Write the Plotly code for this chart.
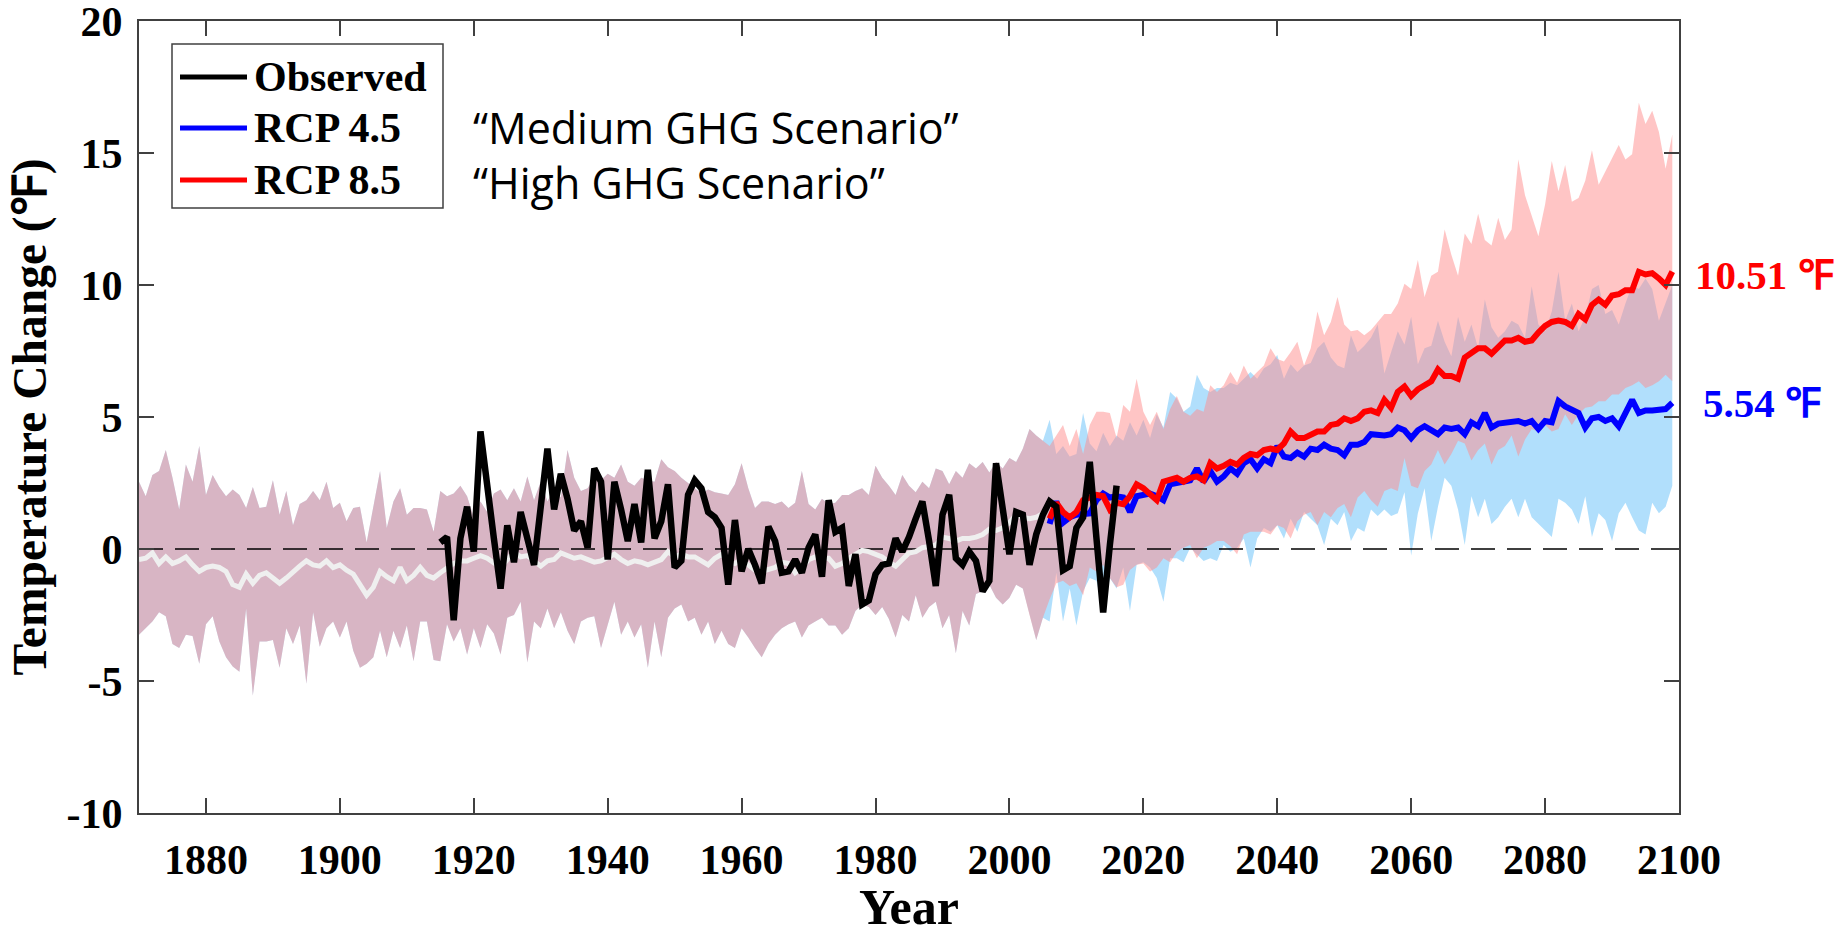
import plotly.graph_objects as go

# ---- years ----
hist_years = list(range(1870, 2006))
future_years = list(range(2006, 2100))
obs_years = list(range(1915, 2017))

# ---- model historical ensemble (shared by both scenarios), degF ----
hist_mean = [
    -0.4, -0.35, -0.15, -0.55, -0.3, -0.55, -0.45, -0.3, -0.6, -0.85,
    -0.7, -0.65, -0.7, -0.85, -1.35, -1.45, -0.95, -1.3, -1.0, -0.9,
    -1.1, -1.3, -1.1, -0.85, -0.65, -0.45, -0.6, -0.65, -0.45, -0.7,
    -0.6, -0.8, -0.95, -1.35, -1.75, -1.45, -0.85, -1.05, -1.2, -0.7,
    -1.2, -1.0, -0.7, -1.0, -1.1, -0.9, -0.7, -0.55, -0.45, -0.45,
    -0.35, -0.25, -0.35, -0.5, -0.7, -0.4, -0.1, -0.3, -0.25, -0.45,
    -0.65, -0.45, -0.4, -0.15, -0.25, -0.35, -0.3, -0.4, -0.5, -0.45,
    -0.3, -0.2, -0.4, -0.55, -0.45, -0.5, -0.6, -0.5, -0.4, -0.1,
    -0.3, -0.2, -0.3, -0.3, -0.45, -0.6, -0.35, -0.2, -0.45, -0.55,
    -0.4, -0.6, -0.8, -0.85, -0.75, -0.7, -0.5, -0.55, -0.9, -0.7,
    -0.4, -0.3, -0.35, -0.35, -0.65, -0.55, -0.35, -0.2, -0.05, -0.1,
    -0.2, -0.3, -0.5, -0.65, -0.4, -0.15, -0.1, 0.05, 0.1, 0.15,
    0.45, 0.4, 0.3, 0.4, 0.4, 0.45, 0.55, 0.75, 0.7, 0.8,
    1.0, 1.3, 1.2, 1.15, 1.2, 1.35,
]
hist_upper = [
    2.55, 2.0, 2.8, 2.95, 3.75, 2.7, 1.5, 3.2, 2.55, 3.9,
    2.05, 2.8, 2.35, 2.0, 2.25, 2.05, 1.55, 2.35, 1.55, 1.6,
    2.6, 1.3, 2.2, 0.9, 1.7, 1.85, 2.2, 1.85, 2.55, 1.55,
    1.75, 1.05, 1.55, 1.6, 0.25, 1.6, 2.95, 0.8, 1.8, 2.3,
    1.3, 1.55, 1.55, 1.5, 0.65, 2.2, 2.0, 2.1, 2.4, 2.0,
    1.2, 1.8, 1.4, 2.1, 2.25, 1.85, 2.3, 1.8, 2.75, 1.85,
    2.55, 1.8, 2.3, 1.95, 3.75, 2.7, 2.2, 2.3, 2.7, 2.6,
    2.85, 2.7, 3.2, 2.55, 2.4, 2.7, 2.6, 2.55, 3.4, 3.1,
    2.95, 2.7, 2.5, 2.3, 2.1, 2.25, 2.15, 2.1, 2.05, 2.45,
    3.25, 2.3, 1.55, 1.8, 1.8, 1.7, 1.8, 1.55, 1.75, 2.95,
    1.7, 1.5, 1.9, 1.7, 1.75, 2.05, 2.05, 2.2, 2.3, 2.05,
    3.15, 2.7, 2.4, 2.05, 2.8, 2.4, 2.15, 2.55, 2.3, 3.05,
    2.95, 2.45, 2.95, 2.7, 3.25, 3.05, 3.3, 2.9, 3.3, 3.05,
    3.45, 3.3, 3.8, 4.55, 4.3, 4.1,
]
hist_lower = [
    -3.25, -3.0, -2.75, -2.4, -2.55, -3.6, -3.75, -3.25, -3.3, -4.35,
    -2.85, -2.55, -3.5, -4.1, -4.45, -4.65, -2.25, -5.55, -3.5, -3.5,
    -3.45, -4.5, -3.0, -3.6, -2.9, -5.1, -2.4, -3.7, -3.0, -2.75,
    -3.35, -2.75, -3.85, -4.5, -4.35, -4.1, -3.1, -4.1, -3.1, -3.75,
    -2.9, -4.25, -2.75, -2.75, -4.2, -4.25, -2.85, -3.5, -3.0, -4.0,
    -3.0, -3.75, -2.85, -3.2, -4.0, -2.6, -2.5, -2.0, -4.3, -2.75,
    -3.0, -2.25, -3.0, -2.4, -3.1, -3.6, -2.75, -2.6, -2.55, -3.75,
    -2.85, -2.0, -3.25, -2.75, -3.35, -2.85, -4.5, -2.75, -4.1, -2.6,
    -2.25, -2.1, -2.75, -2.6, -3.25, -2.75, -3.6, -3.1, -3.6, -3.75,
    -3.0, -3.35, -3.75, -4.1, -3.6, -3.25, -3.0, -2.85, -2.75, -3.35,
    -2.9, -2.75, -2.6, -2.9, -2.9, -3.25, -3.0, -2.35, -2.1, -2.2,
    -2.5, -2.2, -2.65, -3.35, -2.5, -2.75, -1.75, -2.6, -2.2, -2.0,
    -3.0, -2.5, -3.95, -2.35, -2.9, -1.7, -1.6, -1.35, -1.85, -2.1,
    -1.85, -1.35, -1.5, -2.5, -3.45, -2.6,
]

# ---- observed record ----
observed = [
    0.25, 0.45, -2.7, 0.4, 1.6,
    -0.1, 4.45, 2.2, 0.4, -1.5, 0.9, -0.5, 1.4, 0.4, -0.6,
    1.6, 3.8, 1.5, 2.85, 1.9, 0.7, 1.05, 0.05, 3.05, 2.55,
    -0.4, 2.55, 1.5, 0.3, 1.7, 0.25, 3.0, 0.4, 1.05, 2.45,
    -0.7, -0.45, 2.05, 2.6, 2.3, 1.4, 1.2, 0.8, -1.35, 1.1,
    -0.85, 0.0, -0.6, -1.3, 0.85, 0.3, -0.9, -0.85, -0.4, -0.9,
    0.05, 0.55, -1.05, 1.85, 0.65, 0.8, -1.4, -0.2, -2.1, -1.95,
    -0.95, -0.6, -0.55, 0.4, -0.1, 0.45, 1.15, 1.8, 0.3, -1.4,
    1.3, 2.05, -0.35, -0.6, -0.1, -0.45, -1.6, -1.2, 3.25, 1.65,
    -0.2, 1.4, 1.3, -0.6, 0.55, 1.3, 1.8, 1.6, -0.8, -0.65,
    0.8, 1.2, 3.3, 0.4, -2.4, 0.15, 2.4,
]

# ---- RCP 4.5 projections, 2006-2099 ----
rcp45_mean = [
    0.95, 1.8, 1.0, 1.2, 1.3, 1.3, 1.35, 1.85, 2.1, 1.95,
    2.0, 1.95, 1.4, 2.0, 2.05, 2.1, 2.0, 1.85, 2.45, 2.5,
    2.6, 2.6, 3.05, 2.55, 2.95, 2.55, 2.75, 3.05, 2.85, 3.25,
    3.4, 3.05, 3.4, 3.25, 3.9, 3.5, 3.45, 3.65, 3.5, 3.8,
    3.75, 3.95, 3.8, 3.75, 3.55, 3.95, 3.95, 4.05, 4.35, 4.3,
    4.3, 4.35, 4.6, 4.5, 4.2, 4.5, 4.65, 4.5, 4.35, 4.6,
    4.55, 4.6, 4.35, 4.8, 4.65, 5.15, 4.6, 4.75, 4.8, 4.8,
    4.85, 4.75, 4.85, 4.55, 4.85, 4.8, 5.6, 5.4, 5.25, 5.15,
    4.6, 4.95, 5.0, 4.85, 4.95, 4.65, 5.15, 5.65, 5.15, 5.25,
    5.25, 5.25, 5.3, 5.54,
]
rcp45_upper = [
    4.9, 3.6, 3.9, 3.5, 3.6, 5.15, 4.0, 3.7, 4.4, 3.9,
    4.3, 4.1, 4.8, 4.3, 4.9, 4.2, 5.1, 4.6, 5.95, 5.7,
    5.2, 5.4, 6.6, 6.1, 5.95, 6.1, 6.1, 6.3, 6.2, 6.45,
    6.7, 6.45, 6.85, 7.0, 7.35, 6.45, 7.0, 6.7, 6.95, 7.05,
    7.6, 7.85, 7.25, 6.95, 6.85, 8.1, 7.45, 7.7, 8.0, 8.5,
    6.65, 7.45, 8.25, 7.75, 8.8, 7.0, 7.6, 7.7, 8.65, 7.85,
    7.3, 8.8, 7.85, 8.5, 7.6, 9.45, 8.4, 8.0, 8.25, 8.65,
    8.5, 8.0, 9.95, 8.5, 8.25, 9.0, 10.5, 8.65, 9.3, 8.25,
    8.8, 9.85, 10.0, 8.9, 9.05, 8.5, 9.3, 10.0, 9.85, 10.25,
    9.85, 8.65, 9.3, 10.0,
]
rcp45_lower = [
    -2.75, -0.9, -2.75, -1.5, -2.9, -1.6, -1.1, -1.2, -2.35, -1.1,
    -1.5, -0.7, -2.35, -0.6, -0.5, -0.7, -1.1, -2.0, -0.35, -0.35,
    -0.5, 0.05, -0.2, -0.45, -0.35, -0.45, 0.15, -0.1, 0.05, 0.4,
    -0.7, 0.4, 0.8, 0.65, 0.9, 0.4, 1.15, 0.65, 1.4, 1.15,
    0.9, 0.15, 1.15, 0.9, 1.4, 0.3, 0.8, 0.65, 1.5, 1.25,
    1.5, 1.25, 1.35, 2.15, -0.25, 1.35, 2.3, 0.3, 1.6, 2.7,
    2.4, 1.5, 0.15, 2.0, 1.2, 1.9, 0.95, 1.2, 1.6, 1.9,
    1.2, 1.9, 1.2, 0.95, 0.7, 0.45, 1.9, 1.75, 1.5, 0.95,
    2.0, 0.45, 1.35, 1.1, 0.3, 1.35, 1.75, 1.2, 0.7, 0.55,
    1.75, 1.35, 1.6, 2.4,
]

# ---- RCP 8.5 projections, 2006-2099 ----
rcp85_mean = [
    1.15, 1.75, 1.4, 1.2, 1.4, 1.85, 1.95, 2.05, 2.0, 1.5,
    1.75, 1.7, 2.0, 2.45, 2.3, 2.1, 1.85, 2.55, 2.6, 2.7,
    2.55, 2.7, 2.75, 2.6, 3.25, 3.05, 3.15, 3.3, 3.2, 3.45,
    3.6, 3.55, 3.75, 3.8, 3.75, 4.0, 4.45, 4.2, 4.2, 4.3,
    4.45, 4.45, 4.7, 4.75, 4.95, 4.85, 4.95, 5.2, 5.25, 5.15,
    5.65, 5.35, 5.95, 6.15, 5.8, 6.05, 6.2, 6.35, 6.8, 6.55,
    6.55, 6.45, 7.25, 7.4, 7.6, 7.6, 7.4, 7.65, 7.9, 7.9,
    8.0, 7.85, 7.9, 8.2, 8.45, 8.6, 8.65, 8.6, 8.45, 8.9,
    8.7, 9.25, 9.45, 9.25, 9.6, 9.65, 9.8, 9.8, 10.5, 10.4,
    10.45, 10.25, 10.0, 10.51,
]
rcp85_upper = [
    3.9, 4.3, 4.7, 3.9, 4.55, 3.6, 4.7, 5.2, 5.2, 5.15,
    4.2, 5.45, 5.2, 6.45, 5.2, 4.7, 5.2, 4.55, 5.3, 5.8,
    5.2, 5.05, 5.3, 5.2, 6.2, 5.95, 6.2, 6.7, 6.3, 6.95,
    6.45, 6.7, 6.95, 7.6, 7.2, 7.1, 7.45, 7.85, 6.95, 7.6,
    9.0, 8.1, 8.6, 9.55, 8.5, 8.25, 8.3, 8.1, 8.3, 8.6,
    8.9, 8.9, 9.3, 10.05, 9.85, 10.95, 9.55, 10.35, 10.5, 12.1,
    11.15, 10.35, 11.95, 11.55, 12.7, 11.7, 11.5, 12.55, 11.7, 12.1,
    14.75, 13.4, 12.6, 11.85, 13.05, 14.7, 13.55, 14.55, 13.15, 13.3,
    13.95, 15.1, 13.8, 14.3, 14.75, 15.3, 14.75, 14.95, 16.9, 16.1,
    16.6, 15.8, 14.4, 15.7,
]
rcp85_lower = [
    -1.9, -1.3, -1.2, -1.4, -1.3, -1.75, -0.7, -0.85, -0.6, -1.1,
    -1.45, -1.35, -0.8, -0.6, -0.55, -0.85, -0.7, -0.35, -0.5, -0.1,
    0.05, 0.15, -0.35, 0.05, 0.15, 0.3, 0.3, 0.1, -0.2, 0.55,
    0.65, 0.65, 0.65, 0.55, 0.9, 0.8, 0.4, 1.05, 1.3, 1.4,
    0.9, 1.4, 1.2, 1.55, 1.7, 1.2, 1.95, 2.2, 1.85, 1.6,
    2.2, 2.3, 2.2, 3.45, 2.4, 2.3, 2.95, 3.2, 3.75, 3.2,
    3.6, 4.1, 4.0, 3.35, 3.75, 4.0, 3.2, 3.75, 3.9, 4.3,
    3.5, 4.15, 4.55, 4.45, 4.7, 4.45, 4.55, 5.1, 4.7, 5.1,
    5.35, 5.4, 5.6, 5.6, 5.85, 5.85, 6.1, 6.2, 6.35, 6.1,
    6.2, 6.35, 6.6, 6.35,
]

# ---- axis ticks ----
x_ticks = [1880, 1900, 1920, 1940, 1960, 1980, 2000, 2020, 2040, 2060, 2080, 2100]
y_ticks = [-10, -5, 0, 5, 10, 15, 20]
y_tick_text = ["-10", "-5", "0", "5", "10", "15", "20"]

SERIF = "Liberation Serif, Times New Roman, serif"
SANS = "Open Sans, Lato, sans-serif"
AXIS_GREY = "#404040"


def band(years, upper, lower):
    """Closed polygon running along the upper edge and back along the lower one."""
    return years + years[::-1], upper + lower[::-1]


all_years = hist_years + future_years
bx45, by45 = band(all_years, hist_upper + rcp45_upper, hist_lower + rcp45_lower)
bx85, by85 = band(all_years, hist_upper + rcp85_upper, hist_lower + rcp85_lower)

fig = go.Figure()

# ensemble spread; the two layers overlap to a mauve tone over the shared historical runs
fig.add_trace(go.Scatter(x=bx45, y=by45, fill="toself", mode="lines",
                         line=dict(width=0), fillcolor="rgba(135,206,250,0.65)",
                         hoverinfo="skip", showlegend=False))
fig.add_trace(go.Scatter(x=bx85, y=by85, fill="toself", mode="lines",
                         line=dict(width=0), fillcolor="rgba(255,140,140,0.5)",
                         hoverinfo="skip", showlegend=False))

# zero reference
fig.add_trace(go.Scatter(x=[1870, 2100], y=[0, 0], mode="lines",
                         line=dict(color="black", width=1.5, dash="24px,12px"),
                         hoverinfo="skip", showlegend=False))

# model historical mean
fig.add_trace(go.Scatter(x=hist_years, y=hist_mean, mode="lines",
                         line=dict(color="#efefef", width=5), showlegend=False))

# scenario means
fig.add_trace(go.Scatter(x=future_years, y=rcp45_mean, mode="lines", name="RCP 4.5",
                         line=dict(color="#0000ff", width=6), showlegend=False))
fig.add_trace(go.Scatter(x=future_years, y=rcp85_mean, mode="lines", name="RCP 8.5",
                         line=dict(color="#ff0000", width=6), showlegend=False))

# observations
fig.add_trace(go.Scatter(x=obs_years, y=observed, mode="lines", name="Observed",
                         line=dict(color="black", width=6.5), showlegend=False))

# ---- plot-area geometry (pixels) used for the hand-built legend ----
PLOT_L, PLOT_R, PLOT_T, PLOT_B = 139, 1679, 21, 813


def px(x):
    return (x - PLOT_L) / (PLOT_R - PLOT_L)


def py(y):
    return (PLOT_B - y) / (PLOT_B - PLOT_T)


shapes = [
    dict(type="rect", xref="paper", yref="paper",
         x0=px(172), x1=px(443), y0=py(208), y1=py(44),
         line=dict(color=AXIS_GREY, width=1.5), fillcolor="white", layer="above"),
]
annotations = []
legend_rows = [("Observed", "black", 77), ("RCP 4.5", "#0000ff", 128), ("RCP 8.5", "#ff0000", 180)]
for label, color, row_y in legend_rows:
    shapes.append(dict(type="line", xref="paper", yref="paper",
                       x0=px(180), x1=px(247), y0=py(row_y), y1=py(row_y),
                       line=dict(color=color, width=5), layer="above"))
    annotations.append(dict(text=label, xref="paper", yref="paper",
                            x=px(252), y=py(row_y), xanchor="left", yanchor="middle",
                            showarrow=False,
                            font=dict(family=SERIF, size=42, color="black", weight="bold")))

# scenario descriptions beside the legend
annotations.append(dict(text="\u201cMedium GHG Scenario\u201d", xref="paper", yref="paper",
                        x=px(471), y=py(127), xanchor="left", yanchor="middle",
                        showarrow=False, font=dict(family=SANS, size=43, color="black")))
annotations.append(dict(text="\u201cHigh GHG Scenario\u201d", xref="paper", yref="paper",
                        x=px(471), y=py(182), xanchor="left", yanchor="middle",
                        showarrow=False, font=dict(family=SANS, size=43, color="black")))

# end-of-century values
annotations.append(dict(text=f"{rcp85_mean[-1]:.2f} \u2109", xref="paper", yref="y",
                        x=px(1693), y=rcp85_mean[-1], xanchor="left", yanchor="middle",
                        yshift=-3, showarrow=False,
                        font=dict(family=SERIF, size=41, color="#ff0000", weight="bold")))
annotations.append(dict(text=f"{rcp45_mean[-1]:.2f} \u2109", xref="paper", yref="y",
                        x=px(1701), y=rcp45_mean[-1], xanchor="left", yanchor="middle",
                        showarrow=False,
                        font=dict(family=SERIF, size=41, color="#0000ff", weight="bold")))

tick_font = dict(family=SERIF, size=42, color="black", weight="bold")
axis_common = dict(showline=True, linecolor=AXIS_GREY, linewidth=2, mirror="ticks",
                   ticks="inside", ticklen=15, tickwidth=1.5, tickcolor=AXIS_GREY,
                   showgrid=False, zeroline=False, tickfont=tick_font,
                   ticklabeloverflow="allow", automargin=False)

fig.update_xaxes(range=[1870, 2100], tickmode="array", tickvals=x_ticks,
                 ticklabelstandoff=9,
                 title=dict(text="Year", font=dict(family=SERIF, size=50, color="black", weight="bold"),
                            standoff=14),
                 **axis_common)
fig.update_yaxes(range=[-10, 20], tickmode="array", tickvals=y_ticks, ticktext=y_tick_text,
                 ticklabelstandoff=6,
                 title=dict(text="Temperature Change (\u2109)",
                            font=dict(family=SERIF, size=47.5, color="black", weight="bold"),
                            standoff=5),
                 **axis_common)

fig.update_layout(width=1848, height=935,
                  margin=dict(l=PLOT_L, r=1848 - PLOT_R, t=PLOT_T, b=935 - PLOT_B),
                  paper_bgcolor="white", plot_bgcolor="white",
                  showlegend=False, shapes=shapes, annotations=annotations)

fig.write_html("out.html")
